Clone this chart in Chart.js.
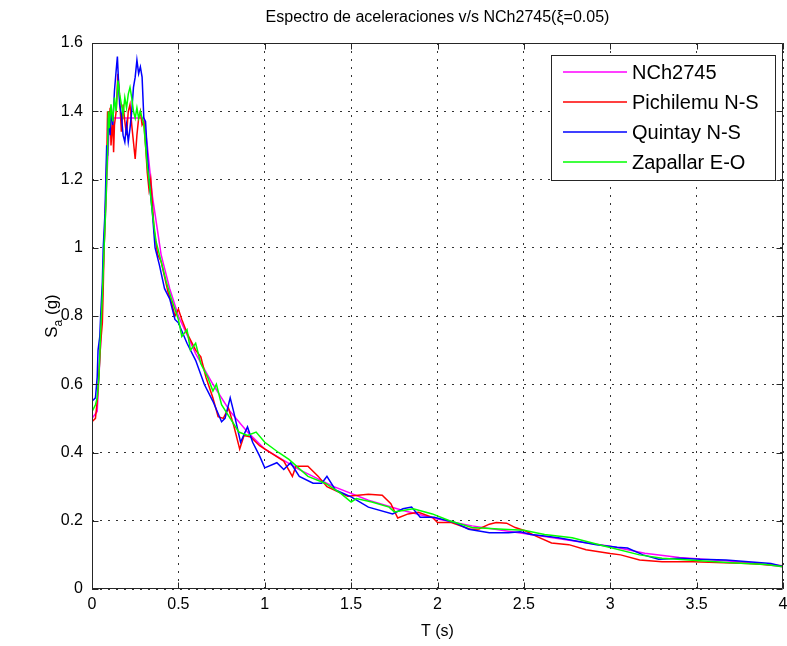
<!DOCTYPE html>
<html>
<head>
<meta charset="utf-8">
<script src="https://cdn.jsdelivr.net/npm/chart.js@4.4.1/dist/chart.umd.min.js"></script>
<style>
html, body { margin: 0; padding: 0; background: #fff; }
#wrap { width: 787px; height: 646px; }
</style>
</head>
<body>
<div id="wrap"><canvas id="spectrumChart" width="787" height="646"></canvas></div>
<script>
// Axis ticks and their labels
const xTicks = [0, 0.5, 1, 1.5, 2, 2.5, 3, 3.5, 4];
const xTickLabels = ['0', '0.5', '1', '1.5', '2', '2.5', '3', '3.5', '4'];
const yTicks = [0, 0.2, 0.4, 0.6, 0.8, 1, 1.2, 1.4, 1.6];
const yTickLabels = ['0', '0.2', '0.4', '0.6', '0.8', '1', '1.2', '1.4', '1.6'];

// Series, [T (s), Sa (g)]
const nch2745 = [
    [0, 0.50], [0.03, 0.52], [0.05, 0.72], [0.07, 1.0], [0.09, 1.25], [0.1, 1.36], [0.11, 1.38],
    [0.3, 1.38], [0.32, 1.30], [0.35, 1.15], [0.4, 0.98], [0.45, 0.88], [0.5, 0.80], [0.6, 0.69],
    [0.7, 0.60], [0.8, 0.52], [0.9, 0.46], [1.0, 0.41], [1.2, 0.35], [1.4, 0.30], [1.6, 0.26],
    [1.8, 0.23], [2.0, 0.205], [2.2, 0.185], [2.4, 0.17], [2.6, 0.155], [2.8, 0.14], [3.0, 0.125],
    [3.2, 0.105], [3.4, 0.092], [3.6, 0.085], [3.8, 0.078], [4.0, 0.065]
];

const pichilemu = [
    [0, 0.49], [0.02, 0.50], [0.03, 0.55], [0.04, 0.63], [0.05, 0.72], [0.06, 0.78], [0.065, 0.88],
    [0.07, 1.0], [0.08, 1.15], [0.085, 1.25], [0.09, 1.40], [0.1, 1.35], [0.105, 1.41], [0.11, 1.30],
    [0.12, 1.38], [0.125, 1.28], [0.13, 1.36], [0.14, 1.40], [0.15, 1.51], [0.16, 1.44], [0.17, 1.34],
    [0.18, 1.42], [0.19, 1.37], [0.2, 1.33], [0.21, 1.40], [0.22, 1.42], [0.23, 1.36], [0.24, 1.31],
    [0.25, 1.26], [0.26, 1.33], [0.27, 1.38], [0.28, 1.40], [0.29, 1.36], [0.3, 1.37], [0.31, 1.30],
    [0.32, 1.22], [0.33, 1.17], [0.34, 1.20], [0.36, 1.05], [0.38, 0.98], [0.4, 0.96], [0.44, 0.87],
    [0.46, 0.84], [0.48, 0.80], [0.5, 0.82], [0.52, 0.79], [0.55, 0.75], [0.58, 0.72], [0.6, 0.70],
    [0.63, 0.68], [0.66, 0.62], [0.7, 0.56], [0.73, 0.505], [0.76, 0.50], [0.79, 0.53], [0.82, 0.48],
    [0.855, 0.41], [0.88, 0.45], [0.92, 0.445], [0.97, 0.42], [1.11, 0.375], [1.16, 0.33], [1.18, 0.36],
    [1.25, 0.36], [1.31, 0.33], [1.36, 0.30], [1.48, 0.272], [1.6, 0.278], [1.68, 0.275], [1.73, 0.25],
    [1.77, 0.208], [1.83, 0.22], [1.89, 0.225], [1.97, 0.21], [2.0, 0.195], [2.08, 0.195], [2.19, 0.175],
    [2.24, 0.176], [2.3, 0.19], [2.34, 0.195], [2.4, 0.193], [2.45, 0.18], [2.51, 0.17], [2.57, 0.155],
    [2.66, 0.135], [2.76, 0.13], [2.86, 0.115], [3.0, 0.104], [3.06, 0.10], [3.17, 0.085], [3.3, 0.08],
    [3.48, 0.08], [3.66, 0.077], [3.8, 0.075], [4.0, 0.068]
];

const quintay = [
    [0, 0.55], [0.02, 0.56], [0.03, 0.62], [0.035, 0.70], [0.045, 0.74], [0.05, 0.80], [0.06, 0.90],
    [0.065, 1.0], [0.075, 1.1], [0.085, 1.3], [0.09, 1.27], [0.095, 1.38], [0.105, 1.33], [0.11, 1.40],
    [0.12, 1.36], [0.13, 1.46], [0.14, 1.52], [0.147, 1.56], [0.155, 1.47], [0.16, 1.42], [0.17, 1.39],
    [0.18, 1.33], [0.19, 1.31], [0.2, 1.36], [0.21, 1.31], [0.22, 1.35], [0.23, 1.40], [0.24, 1.47],
    [0.25, 1.50], [0.26, 1.55], [0.27, 1.51], [0.28, 1.53], [0.29, 1.50], [0.3, 1.38], [0.31, 1.37],
    [0.32, 1.28], [0.33, 1.20], [0.35, 1.10], [0.365, 1.0], [0.39, 0.95], [0.42, 0.88], [0.45, 0.85],
    [0.48, 0.79], [0.5, 0.78], [0.55, 0.72], [0.6, 0.67], [0.65, 0.60], [0.7, 0.55], [0.75, 0.49],
    [0.77, 0.50], [0.8, 0.56], [0.82, 0.52], [0.86, 0.43], [0.9, 0.475], [0.93, 0.43], [0.97, 0.39],
    [1.0, 0.355], [1.07, 0.37], [1.11, 0.35], [1.15, 0.37], [1.2, 0.33], [1.28, 0.31], [1.33, 0.31],
    [1.36, 0.33], [1.41, 0.29], [1.5, 0.27], [1.6, 0.24], [1.74, 0.22], [1.8, 0.235], [1.85, 0.24],
    [1.9, 0.21], [1.98, 0.21], [2.1, 0.195], [2.18, 0.175], [2.3, 0.165], [2.41, 0.165], [2.48, 0.168],
    [2.54, 0.16], [2.62, 0.155], [2.7, 0.15], [2.81, 0.14], [2.92, 0.13], [3.04, 0.122], [3.1, 0.12],
    [3.19, 0.10], [3.28, 0.087], [3.4, 0.09], [3.52, 0.087], [3.67, 0.085], [3.8, 0.08], [3.93, 0.075],
    [4.0, 0.066]
];

const zapallar = [
    [0, 0.52], [0.02, 0.54], [0.03, 0.56], [0.04, 0.62], [0.05, 0.75], [0.06, 0.86], [0.07, 1.0],
    [0.08, 1.12], [0.09, 1.28], [0.095, 1.40], [0.1, 1.35], [0.11, 1.42], [0.12, 1.37], [0.13, 1.44],
    [0.14, 1.40], [0.15, 1.49], [0.16, 1.45], [0.17, 1.42], [0.18, 1.39], [0.19, 1.44], [0.2, 1.41],
    [0.21, 1.45], [0.22, 1.47], [0.23, 1.44], [0.24, 1.40], [0.25, 1.38], [0.26, 1.41], [0.27, 1.38],
    [0.28, 1.40], [0.29, 1.38], [0.3, 1.36], [0.31, 1.30], [0.32, 1.24], [0.33, 1.20], [0.35, 1.10],
    [0.37, 1.02], [0.4, 0.96], [0.43, 0.90], [0.46, 0.85], [0.5, 0.79], [0.52, 0.74], [0.55, 0.76],
    [0.57, 0.70], [0.6, 0.72], [0.63, 0.66], [0.67, 0.62], [0.7, 0.58], [0.72, 0.60], [0.75, 0.54],
    [0.8, 0.50], [0.85, 0.46], [0.9, 0.45], [0.95, 0.46], [1.0, 0.43], [1.08, 0.40], [1.14, 0.38],
    [1.25, 0.33], [1.35, 0.31], [1.44, 0.28], [1.5, 0.255], [1.53, 0.265], [1.62, 0.255], [1.72, 0.24],
    [1.75, 0.226], [1.8, 0.23], [1.86, 0.235], [1.97, 0.22], [2.07, 0.20], [2.2, 0.18], [2.38, 0.175],
    [2.5, 0.172], [2.62, 0.16], [2.78, 0.15], [2.97, 0.125], [3.17, 0.10], [3.3, 0.09], [3.52, 0.083],
    [3.7, 0.077], [3.9, 0.072], [4.0, 0.065]
];

const FONT = '"Liberation Sans", Arial, sans-serif';

function toPoints(pairs) {
    return pairs.map(p => ({ x: p[0], y: p[1] }));
}

function series(label, pairs, color, order) {
    return {
        label: label,
        data: toPoints(pairs),
        borderColor: color,
        backgroundColor: color,
        borderWidth: 1.5,
        pointRadius: 0,
        tension: 0,
        fill: false,
        order: order
    };
}

// MATLAB style frame: box, inward ticks, title, labels, legend
const matlabFrame = {
    id: 'matlabFrame',
    afterDatasetsDraw(chart) {
        const ctx = chart.ctx;
        const a = chart.chartArea;
        const xs = chart.scales.x;
        const ys = chart.scales.y;
        const L = Math.round(a.left) + 0.5, R = Math.round(a.right) - 0.5;
        const T = Math.round(a.top) + 0.5, B = Math.round(a.bottom) - 0.5;
        ctx.save();
        ctx.strokeStyle = '#262626';
        ctx.lineWidth = 1;
        ctx.beginPath();
        ctx.rect(L, T, R - L, B - T);
        xTicks.forEach(v => {
            const px = Math.round(xs.getPixelForValue(v)) + 0.5;
            ctx.moveTo(px, B); ctx.lineTo(px, B - 6);
            ctx.moveTo(px, T); ctx.lineTo(px, T + 6);
        });
        yTicks.forEach(v => {
            const py = Math.round(ys.getPixelForValue(v)) + 0.5;
            ctx.moveTo(L, py); ctx.lineTo(L + 6, py);
            ctx.moveTo(R, py); ctx.lineTo(R - 6, py);
        });
        ctx.stroke();
        ctx.restore();
    },
    afterDraw(chart) {
        const ctx = chart.ctx;
        const a = chart.chartArea;
        const cx = (a.left + a.right) / 2;
        const cy = (a.top + a.bottom) / 2;
        ctx.save();
        ctx.fillStyle = '#000';

        // title
        ctx.font = '16px ' + FONT;
        ctx.textAlign = 'center';
        ctx.textBaseline = 'middle';
        ctx.fillText('Espectro de aceleraciones v/s NCh2745(\u03BE=0.05)', cx, 18);

        // x label
        ctx.fillText('T (s)', cx, 632);

        // y label with subscript
        ctx.translate(57, cy);
        ctx.rotate(-Math.PI / 2);
        ctx.textAlign = 'left';
        ctx.textBaseline = 'alphabetic';
        ctx.font = '17px ' + FONT;
        const wS = ctx.measureText('S').width;
        const wG = ctx.measureText(' (g)').width;
        ctx.font = '12px ' + FONT;
        const wA = ctx.measureText('a').width;
        let x = -(wS + wA + wG) / 2;
        ctx.font = '17px ' + FONT;
        ctx.fillText('S', x, 0);
        x += wS;
        ctx.font = '12px ' + FONT;
        ctx.fillText('a', x, 5);
        x += wA;
        ctx.font = '17px ' + FONT;
        ctx.fillText(' (g)', x, 0);
        ctx.restore();

        // legend box
        ctx.save();
        const bx = 551.5, by = 55.5, bw = 224, bh = 125;
        ctx.fillStyle = '#fff';
        ctx.fillRect(bx, by, bw, bh);
        ctx.strokeStyle = '#262626';
        ctx.lineWidth = 1;
        ctx.strokeRect(bx, by, bw, bh);
        ctx.font = '20px ' + FONT;
        ctx.textAlign = 'left';
        ctx.textBaseline = 'middle';
        chart.data.datasets.forEach((ds, i) => {
            const ly = 72 + i * 30;
            ctx.strokeStyle = ds.borderColor;
            ctx.lineWidth = 1.5;
            ctx.beginPath();
            ctx.moveTo(563, ly);
            ctx.lineTo(627, ly);
            ctx.stroke();
            ctx.fillStyle = '#000';
            ctx.fillText(ds.label, 632, ly + 1);
        });
        ctx.restore();
    }
};

const ctx = document.getElementById('spectrumChart').getContext('2d');
new Chart(ctx, {
    type: 'line',
    data: {
        datasets: [
            series('NCh2745', nch2745, '#ff00ff', 4),
            series('Pichilemu N-S', pichilemu, '#ff0000', 3),
            series('Quintay N-S', quintay, '#0000ff', 2),
            series('Zapallar E-O', zapallar, '#00ff00', 1)
        ]
    },
    options: {
        responsive: false,
        animation: false,
        devicePixelRatio: 1,
        layout: {
            padding: { left: 0, right: 4, top: 43, bottom: 0 }
        },
        plugins: {
            legend: { display: false },
            title: { display: false },
            tooltip: { enabled: false }
        },
        scales: {
            x: {
                type: 'linear',
                min: 0,
                max: 4,
                afterBuildTicks: s => { s.ticks = xTicks.map(v => ({ value: v })); },
                afterFit: s => { s.height = 57; s.paddingLeft = 0; s.paddingRight = 0; },
                ticks: {
                    color: '#000',
                    padding: 6,
                    maxRotation: 0,
                    autoSkip: false,
                    font: { family: FONT, size: 16 },
                    callback: (value, i) => xTickLabels[i]
                },
                grid: {
                    color: '#333',
                    lineWidth: 1,
                    drawTicks: false
                },
                border: { display: false, dash: [2, 6] }
            },
            y: {
                type: 'linear',
                min: 0,
                max: 1.6,
                afterBuildTicks: s => { s.ticks = yTicks.map(v => ({ value: v })); },
                afterFit: s => { s.width = 92; s.paddingTop = 0; s.paddingBottom = 0; },
                ticks: {
                    color: '#000',
                    padding: 9,
                    autoSkip: false,
                    font: { family: FONT, size: 16 },
                    callback: (value, i) => yTickLabels[i]
                },
                grid: {
                    color: '#333',
                    lineWidth: 1,
                    drawTicks: false
                },
                border: { display: false, dash: [2, 6] }
            }
        }
    },
    plugins: [matlabFrame]
});
</script>
</body>
</html>
